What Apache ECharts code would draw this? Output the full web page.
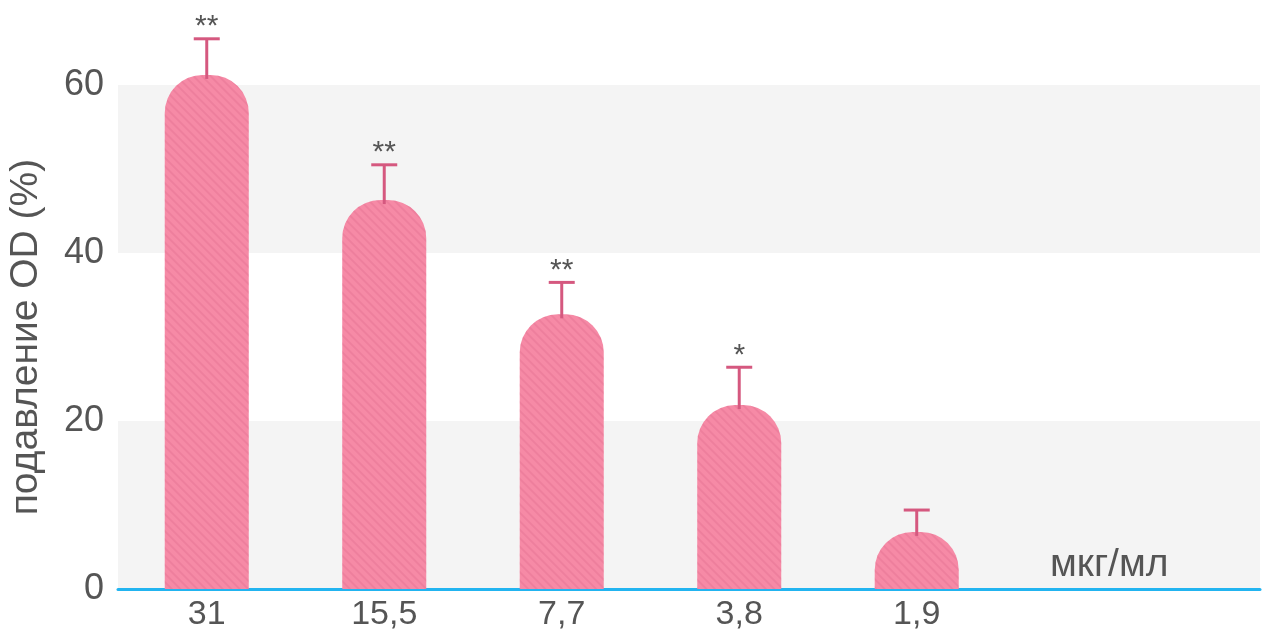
<!DOCTYPE html>
<html>
<head>
<meta charset="utf-8">
<script src="https://cdn.jsdelivr.net/npm/echarts@6/dist/echarts.min.js"></script>
<style>
  html, body { margin: 0; padding: 0; background: #fff; }
  #chart { width: 1267px; height: 637px; }
</style>
</head>
<body>
<div id="chart"></div>
<script>
// concentrations, mean suppression and upper error bound
var categories = ["31", "15,5", "7,7", "3,8", "1,9"];
var values = [61.2, 46.3, 32.7, 21.9, 6.8];
var errorTop = [65.5, 50.5, 36.5, 26.4, 9.4];
var stars = ["**", "**", "**", "*", ""];
var yTicks = [0, 20, 40, 60];

var chart = echarts.init(document.getElementById("chart"));

var barData = values.map(function (v, i) { return [i, v]; });
var errData = values.map(function (v, i) { return [i, v, errorTop[i]]; });

var option = {
  animation: false,
  grid: { left: 118, right: 7, top: 85, bottom: 48, outerBoundsMode: "none" },
  xAxis: {
    type: "value",
    min: -0.5,
    max: 5.934,
    splitLine: { show: false },
    axisTick: { show: false },
    axisLine: { show: true, onZero: false, lineStyle: { color: "#22b4f0", width: 3 } },
    axisLabel: {
      customValues: [0, 1, 2, 3, 4],
      formatter: function (v) { return categories[Math.round(v)]; },
      fontFamily: "Liberation Sans",
      fontSize: 34,
      color: "#555",
      margin: 9
    }
  },
  yAxis: {
    type: "value",
    min: yTicks[0],
    max: yTicks[yTicks.length - 1],
    interval: 20,
    splitLine: { show: false },
    splitArea: { show: true, areaStyle: { color: ["#f4f4f4", "#ffffff"] } },
    axisLine: { show: false },
    axisTick: { show: false },
    axisLabel: { fontFamily: "Liberation Sans", fontSize: 36, color: "#555", margin: 14 },
    name: "подавление OD (%)",
    nameLocation: "middle",
    nameRotate: 90,
    nameGap: 72,
    nameTextStyle: { fontFamily: "Liberation Sans", fontSize: 39, color: "#555" }
  },
  graphic: [{
    type: "text",
    z: 20,
    left: 1050,
    top: 546,
    style: { text: "мкг/мл", fontSize: 39, fontFamily: "Liberation Sans", fill: "#555" }
  }],
  series: [
    {
      type: "bar",
      barWidth: 84,
      clip: false,
      data: barData,
      itemStyle: {
        color: "#f68aa6",
        borderRadius: [38, 38, 0, 0],
        decal: {
          symbol: "rect",
          dashArrayX: [1, 0],
          dashArrayY: [2, 4],
          rotation: Math.PI / 4,
          color: "rgba(215, 95, 130, 0.25)"
        }
      }
    },
    {
      type: "custom",
      clip: false,
      data: errData,
      z: 5,
      renderItem: function (params, api) {
        var i = api.value(0);
        var base = api.coord([i, api.value(1)]);
        var top = api.coord([i, api.value(2)]);
        var half = 13;
        return {
          type: "group",
          children: [
            { type: "line", shape: { x1: base[0], y1: base[1] + 4, x2: top[0], y2: top[1] },
              style: { stroke: "#d5587f", lineWidth: 3 } },
            { type: "line", shape: { x1: top[0] - half, y1: top[1], x2: top[0] + half, y2: top[1] },
              style: { stroke: "#d5587f", lineWidth: 3 } },
            { type: "text", x: top[0], y: top[1] - 12,
              style: { text: stars[params.dataIndex], fontSize: 30, fontFamily: "Liberation Sans", fill: "#555",
                       align: "center", verticalAlign: "middle" } }
          ]
        };
      }
    }
  ]
};

chart.setOption(option);
</script>
</body>
</html>
